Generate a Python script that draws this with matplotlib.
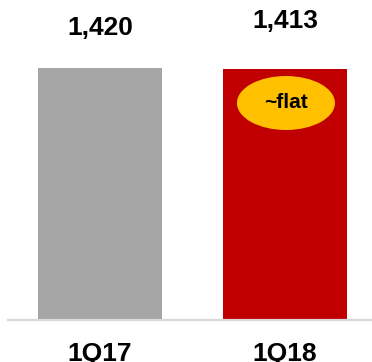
import matplotlib
matplotlib.use("Agg")
import matplotlib.pyplot as plt
from matplotlib.patches import Ellipse

# data
quarters = ["1Q17", "1Q18"]
values = [1420, 1413]
value_labels = ["1,420", "1,413"]
bar_colors = ["#a6a6a6", "#c00000"]

plt.rcParams['font.family'] = ['Liberation Sans', 'DejaVu Sans']

fig = plt.figure(figsize=(3.72, 3.62), dpi=100)
ax = fig.add_axes([8 / 372, 42 / 362, 364 / 372, 252 / 362])

x = range(len(quarters))
bars = ax.bar(x, values, width=0.67, color=bar_colors)
ax.set_ylim(0, 1420)
ax.set_xlim(-0.497, 1.47)

# value labels above the bars (positions in the original are a bit uneven)
label_offsets = [40, 48]
for b, lab, off in zip(bars, value_labels, label_offsets):
    ax.annotate(lab, (b.get_x() + b.get_width() / 2, b.get_height()),
                xytext=(0, off * 72 / 100), textcoords="offset points",
                ha="center", va="center", fontsize=19, fontweight="bold",
                annotation_clip=False)

# "~flat" callout on the 1Q18 bar
cy = 1420 - 35 * 1420 / 252
ell = Ellipse((1.005, cy), 98 / 185, 54 * 1420 / 252,
              facecolor="#ffc000", edgecolor="none", zorder=3)
ax.add_patch(ell)
ax.text(1.005, cy, "~flat", ha="center", va="center",
        fontsize=15, fontweight="bold", zorder=4)

ax.set_xticks(list(x))
ax.set_xticklabels(quarters, fontsize=19, fontweight="bold")
ax.tick_params(axis="x", length=0, pad=16)
ax.set_yticks([])
for s in ["top", "left", "right"]:
    ax.spines[s].set_visible(False)
ax.spines["bottom"].set_color("#d9d9d9")
ax.spines["bottom"].set_linewidth(1.6)

fig.savefig("out.png", dpi=100)
